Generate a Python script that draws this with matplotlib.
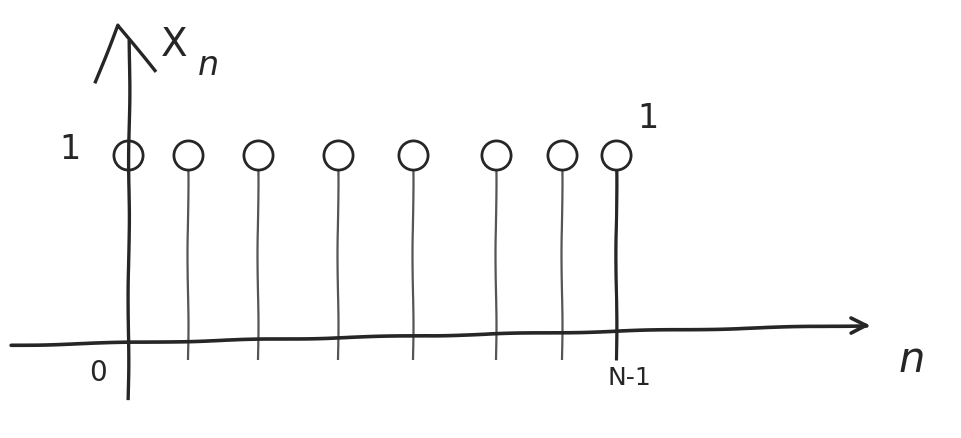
import matplotlib
matplotlib.use("Agg")
import matplotlib.pyplot as plt

# stem positions as sketched (axis units, last one is N-1) and their values
n_pos = [0.0, 0.86, 1.87, 3.01, 4.09, 5.28, 6.23, 7.0]
x_n = [1, 1, 1, 1, 1, 1, 1, 1]
tick_labels = ["0", "N-1"]

ink = "#262626"
stem_ink = "#555555"

plt.xkcd(scale=0.5, length=150, randomness=2)
plt.rcParams['font.family'] = ['DejaVu Sans']
plt.rcParams['path.effects'] = []

fig = plt.figure(figsize=(9.62, 4.38), dpi=100)
ax = fig.add_axes([0, 0, 1, 1])
ax.set_xlim(-1.84, 11.97)
ax.set_ylim(-0.546, 1.847)
ax.axis("off")

# axes drawn by hand
ax.annotate("", xy=(10.7, 0.07), xytext=(-1.72, -0.04),
            arrowprops=dict(arrowstyle="->", color=ink, lw=2.6,
                            mutation_scale=28), zorder=4)
ax.plot([0, 0.02], [-0.33, 1.62], color=ink, lw=2.4, zorder=4)
ax.plot([-0.47, -0.15, 0.38], [1.4, 1.71, 1.46], color=ink, lw=2.4)

# stems and open circles
ax.vlines(n_pos[1:], -0.12, x_n[1:], color=stem_ink, lw=1.6, zorder=2)
ax.vlines(n_pos[-1:], -0.12, x_n[-1:], color=ink, lw=2.2, zorder=2)
ax.plot(n_pos, x_n, linestyle="none", marker="o", markersize=21,
        markerfacecolor="white", markeredgecolor=ink, markeredgewidth=2,
        zorder=3)

# labels
ax.text(-0.83, 1.03, "1", fontsize=24, color=ink, ha="center", va="center")
ax.text(7.46, 1.2, "1", fontsize=24, color=ink, ha="center", va="center")
ax.text(0.47, 1.6, "X", fontsize=28, color=ink, ha="left", va="center")
ax.text(1.0, 1.49, "n", fontsize=24, color=ink, ha="left", va="center",
        style="italic")
ax.text(-0.44, -0.19, tick_labels[0], fontsize=20, color=ink,
        ha="center", va="center")
ax.text(n_pos[-1] + 0.2, -0.22, tick_labels[1], fontsize=18, color=ink,
        ha="center", va="center")
ax.text(11.25, -0.12, "n", fontsize=30, color=ink, ha="center",
        va="center", style="italic")

fig.savefig("out.png", dpi=100, facecolor="white")
